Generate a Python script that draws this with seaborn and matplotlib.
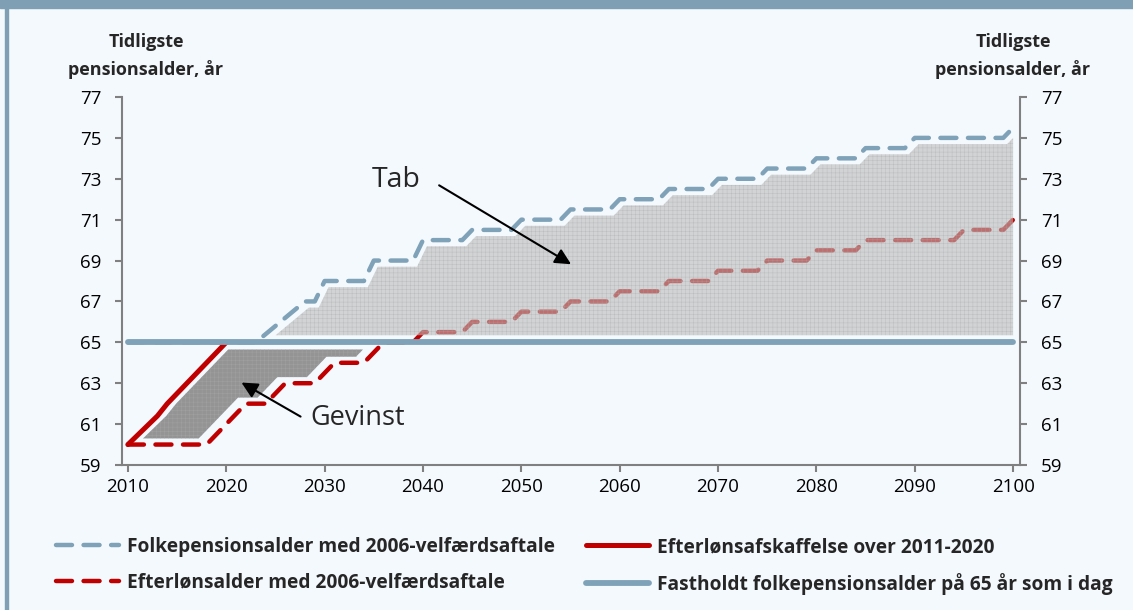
import numpy as np
import seaborn as sns
import matplotlib.pyplot as plt
from matplotlib.patches import Rectangle

# Aflæste knækpunkter (år, tidligste pensionsalder)
folk_aar = [2010, 2023, 2028, 2029, 2030, 2034, 2035, 2039, 2040, 2044,
            2045, 2049, 2050, 2054, 2055, 2059, 2060, 2064, 2065, 2069,
            2070, 2074, 2075, 2079, 2080, 2084, 2085, 2089, 2090, 2099, 2100]
folk_alder = [65, 65, 67, 67, 68, 68, 69, 69, 70, 70,
              70.5, 70.5, 71, 71, 71.5, 71.5, 72, 72, 72.5, 72.5,
              73, 73, 73.5, 73.5, 74, 74, 74.5, 74.5, 75, 75, 75.5]

efter_aar = [2010, 2018, 2022, 2024, 2026, 2029, 2031, 2034, 2036, 2039,
             2040, 2044, 2045, 2049, 2050, 2054, 2055, 2059, 2060, 2064,
             2065, 2069, 2070, 2074, 2075, 2079, 2080, 2084, 2085, 2094,
             2095, 2099, 2100]
efter_alder = [60, 60, 62, 62, 63, 63, 64, 64, 65, 65,
               65.5, 65.5, 66, 66, 66.5, 66.5, 67, 67, 67.5, 67.5,
               68, 68, 68.5, 68.5, 69, 69, 69.5, 69.5, 70, 70,
               70.5, 70.5, 71]

afskaf_aar = [2010, 2013, 2014, 2020]
afskaf_alder = [60, 61.4, 62, 65]

fast_aar = [2010, 2100]
fast_alder = [65, 65]

labels = ['Folkepensionsalder med 2006-velfærdsaftale',
          'Efterlønsalder med 2006-velfærdsaftale',
          'Efterlønsafskaffelse over 2011-2020',
          'Fastholdt folkepensionsalder på 65 år som i dag']

BG = '#F4F9FD'
BLAA = '#7FA2B8'
ROED = '#C00000'

sns.set_theme(style='white')
plt.rcParams['font.family'] = ['Open Sans', 'DejaVu Sans']
plt.rcParams['hatch.linewidth'] = 0.3

fig = plt.figure(figsize=(11.33, 6.1), dpi=100, facecolor=BG)
ax = fig.add_axes([122 / 1133, 1 - 465 / 610, (1020 - 122) / 1133, (465 - 97) / 610])
ax.set_facecolor(BG)

# ramme
fig.patches.append(Rectangle((0, 1 - 8 / 610), 1, 8 / 610, transform=fig.transFigure,
                             color='#7F9FB5', zorder=0))
fig.patches.append(Rectangle((5 / 1133, 0), 3 / 1133, 1, transform=fig.transFigure,
                             color='#7F9FB5', zorder=0))

# skraverede områder (Tab og Gevinst)
grid = np.linspace(2010, 2100, 1801)
tab_top = np.interp(grid - 0.4, folk_aar, folk_alder) - 0.3
ax.fill_between(grid, 65.35, tab_top, where=tab_top > 65.35, interpolate=True,
                facecolor='#BBBBBB', edgecolor='#A8A8A8', hatch='++++', linewidth=0,
                alpha=0.6, zorder=3)

gev_top = np.minimum(np.interp(grid - 0.9, afskaf_aar, afskaf_alder), 64.65)
gev_bund = np.interp(grid + 0.8, efter_aar, efter_alder) + 0.3
ax.fill_between(grid, gev_bund, gev_top, where=gev_top > gev_bund, interpolate=True,
                facecolor='#949494', edgecolor='#A3A3A3', hatch='++++', linewidth=0,
                zorder=3)

# linjer
sns.lineplot(x=efter_aar, y=efter_alder, ax=ax, color=ROED, lw=3.2, errorbar=None,
             linestyle=(0, (3.6, 2.6)), dash_capstyle='round', zorder=2)
h_efter = ax.lines[-1]
sns.lineplot(x=folk_aar, y=folk_alder, ax=ax, color=BLAA, lw=3.2, errorbar=None,
             linestyle=(0, (3.6, 2.6)), dash_capstyle='round', zorder=4)
h_folk = ax.lines[-1]
sns.lineplot(x=afskaf_aar, y=afskaf_alder, ax=ax, color=ROED, lw=3.6, errorbar=None,
             solid_capstyle='round', zorder=4)
h_afskaf = ax.lines[-1]
sns.lineplot(x=fast_aar, y=fast_alder, ax=ax, color=BLAA, lw=4.2, errorbar=None,
             solid_capstyle='round', zorder=5)
h_fast = ax.lines[-1]

# annotationer
ax.annotate('', xy=(2055.3, 68.75), xytext=(2041.4, 72.75),
            arrowprops=dict(arrowstyle='-|>', color='black', lw=1.5, mutation_scale=24),
            zorder=6)
ax.text(2037.3, 72.95, 'Tab', fontsize=20.5, ha='center', va='center', zorder=6)
ax.annotate('', xy=(2021.3, 63.1), xytext=(2027.8, 61.3),
            arrowprops=dict(arrowstyle='-|>', color='black', lw=1.5, mutation_scale=24),
            zorder=6)
ax.text(2028.6, 61.3, 'Gevinst', fontsize=19.5, ha='left', va='center', zorder=6)

# akser
ax.set_xlim(2009.4, 2100.7)
ax.set_ylim(59, 77)
ax.set_xticks(range(2010, 2101, 10))
ax.set_yticks(range(59, 78, 2))
ax.set_xlabel('')
ax.set_ylabel('')
for side in ['left', 'right', 'bottom']:
    ax.spines[side].set_visible(True)
    ax.spines[side].set_color('#808080')
    ax.spines[side].set_linewidth(1.5)
ax.spines['top'].set_visible(False)
ax.tick_params(axis='y', which='both', left=True, right=True, labelleft=True, labelright=True,
               direction='out', length=5, width=1.5, color='#808080', pad=10,
               labelsize=13.5, labelcolor='black')
ax.tick_params(axis='x', bottom=True, direction='out', length=5, width=1.5, color='#808080',
               pad=4, labelsize=13.5, labelcolor='black')

fig.text(146 / 1133, 1 - 56 / 610, 'Tidligste\npensionsalder, år', ha='center', va='center',
         fontsize=13, fontweight='bold', linespacing=1.55)
fig.text(1013 / 1133, 1 - 56 / 610, 'Tidligste\npensionsalder, år', ha='center', va='center',
         fontsize=13, fontweight='bold', linespacing=1.55)

# forklaring i to kolonner
leg_kw = dict(loc='upper left', bbox_transform=fig.transFigure, frameon=False,
              borderpad=0, borderaxespad=0, handlelength=3.3, handletextpad=0.4,
              labelspacing=0.82, prop={'weight': 'bold', 'size': 13.8})
leg1 = ax.legend([h_folk, h_efter], labels[:2],
                 bbox_to_anchor=(56 / 1133, 1 - 537 / 610), **leg_kw)
ax.add_artist(leg1)
leg2 = ax.legend([h_afskaf, h_fast], labels[2:],
                 bbox_to_anchor=(586 / 1133, 1 - 537 / 610), **leg_kw)

fig.savefig('out.png', dpi=100, facecolor=BG)
